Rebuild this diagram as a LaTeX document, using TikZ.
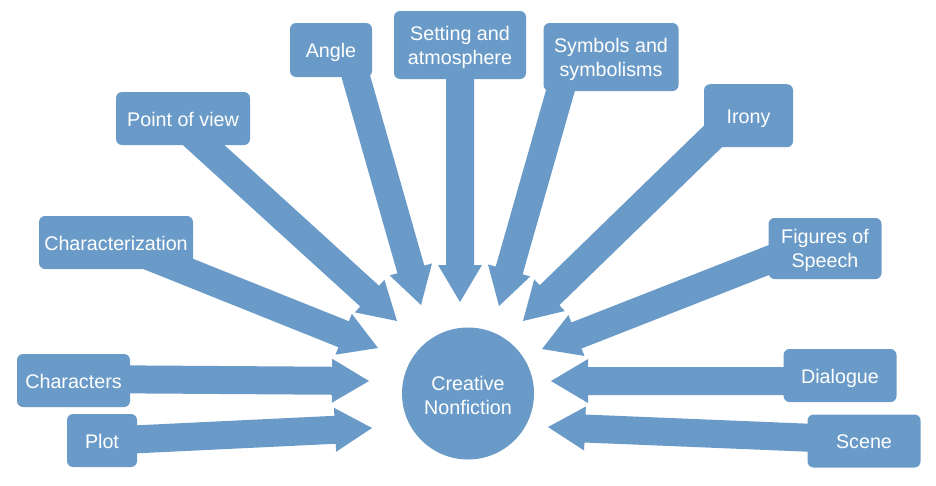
\documentclass[tikz,border=0pt]{standalone}
\usepackage{fontspec}
\setmainfont{Liberation Sans}
\usetikzlibrary{calc,backgrounds}
\definecolor{sablue}{RGB}{106,155,200}
\tikzset{
  box/.style={fill=sablue, rounded corners=6pt, text=white, align=center,
    font=\fontsize{19.7}{24}\selectfont, inner sep=0pt, text height=17.5pt, text depth=2.5pt},
  boxtwo/.style={box, text height=40pt, text depth=2pt},
  hub/.style={circle, fill=sablue, text=white, align=center,
    font=\fontsize{19.7}{24}\selectfont, inner sep=0pt, minimum size=132pt,
    text height=42pt, text depth=1pt},
  arrowfill/.style={fill=sablue}
}
\newcommand\blockarr[3]{%
  \coordinate (#3h) at ($(#2)!37pt!(#1)$);
  \fill[arrowfill] ($(#1)!14pt!90:(#2)$) -- ($(#3h)!14pt!90:(#2)$) -- ($(#3h)!22pt!90:(#2)$) -- (#2)
    -- ($(#3h)!22pt!-90:(#2)$) -- ($(#3h)!14pt!-90:(#2)$) -- ($(#1)!14pt!-90:(#2)$) -- cycle;}
\begin{document}
\begin{tikzpicture}[x=1pt,y=-1pt]
\useasboundingbox (0,0) rectangle (936,485);
% hub
\node[hub] (hub) at (468,393.5) {Creative\\Nonfiction};
% boxes
\node[box, minimum width=70pt,  minimum height=53pt] (plot)  at (102,440.5) {Plot};
\node[box, minimum width=113pt, minimum height=53pt] (chars) at (73.5,380.5) {Characters};
\node[box, minimum width=154pt, minimum height=53pt] (charz) at (116,242.5) {Characterization};
\node[box, minimum width=134pt, minimum height=53pt] (pov)   at (183,118.5) {Point of view};
\node[box, minimum width=82pt,  minimum height=54pt] (angle) at (331,50) {Angle};
\node[boxtwo, minimum width=132pt, minimum height=68pt] (sett)  at (460,45) {Setting and\\atmosphere};
\node[boxtwo, minimum width=135pt, minimum height=68pt] (symb)  at (611,57) {Symbols and\\symbolisms};
\node[box, minimum width=89pt,  minimum height=63pt] (irony) at (748.5,115.7) {Irony};
\node[boxtwo, minimum width=113pt, minimum height=61pt] (figs)  at (825,248.5) {Figures of\\Speech};
\node[box, minimum width=113pt, minimum height=53pt] (dial)  at (840,375.5) {Dialogue};
\node[box, minimum width=113pt, minimum height=53pt] (scene) at (864,441) {Scene};
% arrow start and tip points
\coordinate (plotS)  at (102,441);   \coordinate (plotT)  at (372,428);
\coordinate (charsS) at (73,379);    \coordinate (charsT) at (369,381);
\coordinate (charzS) at (116,243);   \coordinate (charzT) at (378,348);
\coordinate (povS)   at (175,119);   \coordinate (povT)   at (397,321);
\coordinate (angleS) at (348,49);    \coordinate (angleT) at (421,305);
\coordinate (settS)  at (460,45);    \coordinate (settT)  at (460,302);
\coordinate (symbS)  at (570,57);    \coordinate (symbT)  at (499,306);
\coordinate (ironyS) at (735,115);   \coordinate (ironyT) at (523,321);
\coordinate (figsS)  at (825,238);   \coordinate (figsT)  at (542,349);
\coordinate (dialS)  at (840,381);   \coordinate (dialT)  at (551,381);
\coordinate (sceneS) at (864,440);   \coordinate (sceneT) at (548,427);
\begin{pgfonlayer}{background}
\blockarr{plotS}{plotT}{pa}
\blockarr{charsS}{charsT}{ca}
\blockarr{charzS}{charzT}{za}
\blockarr{povS}{povT}{va}
\blockarr{angleS}{angleT}{aa}
\blockarr{settS}{settT}{sa}
\blockarr{symbS}{symbT}{ya}
\blockarr{ironyS}{ironyT}{ia}
\blockarr{figsS}{figsT}{fa}
\blockarr{dialS}{dialT}{da}
\blockarr{sceneS}{sceneT}{ea}
\end{pgfonlayer}
\end{tikzpicture}
\end{document}
